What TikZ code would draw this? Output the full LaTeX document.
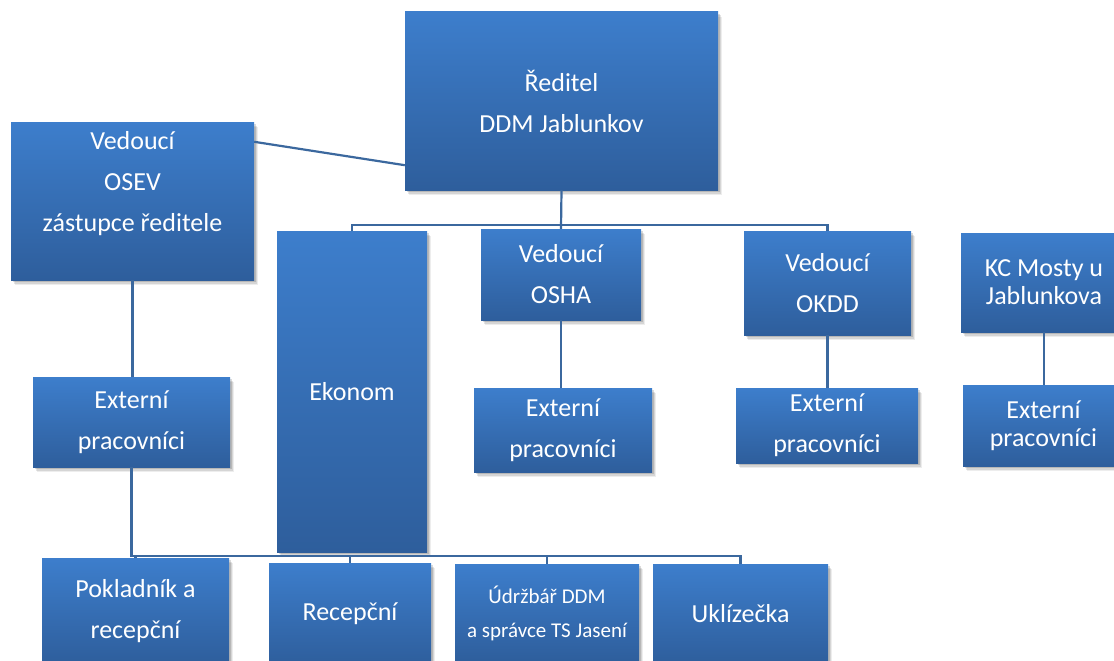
\documentclass[tikz,border=0pt]{standalone}
\usepackage{fontspec}
\setmainfont{Carlito}
\usetikzlibrary{shadows,calc}
\definecolor{boxtop}{RGB}{61,126,204}
\definecolor{boxbot}{RGB}{46,94,156}
\definecolor{linec}{RGB}{59,104,158}
\tikzset{
  box/.style={draw=none, top color=boxtop, bottom color=boxbot, inner sep=0pt,
    text=white, align=center, font=\fontsize{26}{41}\selectfont,
    drop shadow={shadow xshift=3.5pt, shadow yshift=-5pt, opacity=0.07, fill=black},
    drop shadow={shadow xshift=2.5pt, shadow yshift=-3.5pt, opacity=0.10, fill=black},
    drop shadow={shadow xshift=1.5pt, shadow yshift=-2pt, opacity=0.14, fill=black}},
  tightbox/.style={box, font=\fontsize{26}{28}\selectfont},
  smallbox/.style={box, font=\fontsize{21}{34}\selectfont},
  txt/.style={text=white, align=center, inner sep=0pt, font=\fontsize{26}{41}\selectfont},
  conn/.style={draw=linec, line width=2.2pt},
}
\begin{document}
\begin{tikzpicture}[x=1pt,y=-1pt]
\useasboundingbox (0,0) rectangle (1114,661);
% boxes
\node[box, minimum width=313pt, minimum height=178pt] (dir) at (561.5,101) {Ředitel\\DDM Jablunkov};
\node[box, minimum width=243pt, minimum height=158pt] (osev) at (132.5,201) {};
\node[txt] (osevt) at (132.5,184) {Vedoucí\\OSEV\\zástupce ředitele};
\node[box, minimum width=150pt, minimum height=321pt] (ekon) at (352,391.5) {Ekonom};
\node[box, minimum width=160pt, minimum height=91pt] (osha) at (561,274.5) {Vedoucí\\OSHA};
\node[box, minimum width=167pt, minimum height=104pt] (okdd) at (827.5,283) {Vedoucí\\OKDD};
\node[tightbox, minimum width=166pt, minimum height=99pt] (kc) at (1044,282.5) {KC Mosty u\\Jablunkova};
\node[box, minimum width=197pt, minimum height=90pt] (ext1) at (131.5,422) {Externí\\pracovníci};
\node[box, minimum width=178pt, minimum height=84pt] (ext2) at (563,430) {Externí\\pracovníci};
\node[box, minimum width=182pt, minimum height=75pt] (ext3) at (827,425.5) {Externí\\pracovníci};
\node[tightbox, minimum width=161pt, minimum height=81pt] (ext4) at (1043.5,425.5) {Externí\\pracovníci};
\node[box, minimum width=187pt, minimum height=106pt] (pok) at (135.5,611) {Pokladník a\\recepční};
\node[box, minimum width=162pt, minimum height=102pt] (rec) at (350,614) {Recepční};
\node[smallbox, minimum width=184pt, minimum height=98pt] (udr) at (547,613) {Údržbář DDM\\a správce TS Jasení};
\node[box, minimum width=175pt, minimum height=100pt] (ukl) at (740.5,614) {Uklízečka};
% connectors
\draw[conn] ([yshift=-20pt]osev.north east) -- ([yshift=25pt]dir.south west);
\coordinate (bus1) at (561,225);
\draw[conn] (dir.south) -- (osha.north);
\draw[conn] (ekon.north) |- (bus1) -| (okdd.north);
\draw[conn] (osev.south) -- (osev.south |- ext1.north);
\draw[conn] (osha.south) -- (osha.south |- ext2.north);
\draw[conn] (okdd.south) -- (okdd.south |- ext3.north);
\draw[conn] (kc.south) -- (kc.south |- ext4.north);
\coordinate (bus2) at (133,556);
\draw[conn] (ext1.south) -- (ext1.south |- bus2) -| (ukl.north);
\draw[conn] (pok.north) -- (pok.north |- bus2);
\draw[conn] (rec.north) -- (rec.north |- bus2);
\draw[conn] (udr.north) -- (udr.north |- bus2);
\end{tikzpicture}
\end{document}
